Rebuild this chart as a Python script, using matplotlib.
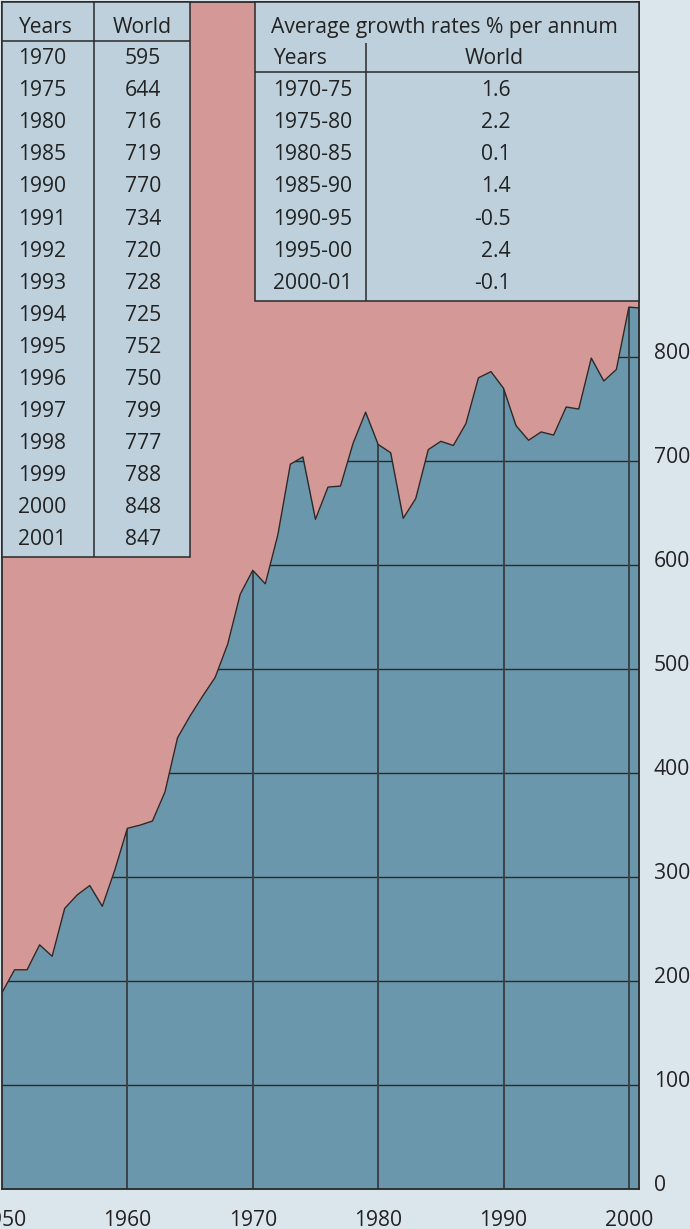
import matplotlib
matplotlib.use("Agg")
import matplotlib.pyplot as plt
import numpy as np
from matplotlib.patches import Rectangle
from matplotlib.transforms import ScaledTranslation

plt.rcParams['font.family'] = ['Open Sans', 'DejaVu Sans']

# ---- data ----
years = list(range(1950, 2002))
world = [189, 211, 211, 235, 224, 270, 283, 292, 272, 307,
         347, 350, 354, 382, 434, 455, 474, 492, 524, 572,
         595, 582, 629, 697, 704, 644, 675, 676, 717, 747,
         716, 708, 645, 664, 711, 719, 715, 736, 780, 786,
         770, 734, 720, 728, 725, 752, 750, 799, 777, 788,
         848, 847]

table_years = [1970, 1975, 1980, 1985, 1990, 1991, 1992, 1993, 1994, 1995,
               1996, 1997, 1998, 1999, 2000, 2001]
table_values = [595, 644, 716, 719, 770, 734, 720, 728, 725, 752,
                750, 799, 777, 788, 848, 847]

growth_periods = ["1970-75", "1975-80", "1980-85", "1985-90", "1990-95", "1995-00", "2000-01"]
growth_rates = ["1.6", "2.2", "0.1", "1.4", "-0.5", "2.4", "-0.1"]

x_ticks = [1950, 1960, 1970, 1980, 1990, 2000]
y_ticks = [0, 100, 200, 300, 400, 500, 600, 700, 800]

# ---- style ----
BG = '#dae6ec'
PINK = '#d49996'
BLUE = '#6a97ab'
CELL = '#bdd0db'
DARK = '#2a2a2a'
TXT = '#222222'
FS = 15.2

W, H = 690, 1229
fig = plt.figure(figsize=(W / 100, H / 100), dpi=100, facecolor=BG)

ax_l, ax_r, ax_t, ax_b = 2.0, 639.3, 2.3, 1189.3
ax = fig.add_axes([ax_l / W, 1 - ax_b / H, (ax_r - ax_l) / W, (ax_b - ax_t) / H])
ax.set_facecolor(PINK)
ax.set_xlim(1950, 2000.83)
ax.set_ylim(0, 1141)

fill = ax.fill_between(years, world, 0, color=BLUE, lw=0, zorder=1)
clip = fill.get_paths()[0]

hl = ax.hlines(y_ticks[1:], 1950, 2002, colors=DARK, lw=1.0, zorder=2)
hl.set_clip_path(clip, ax.transData)
vl = ax.vlines(x_ticks[1:], 0, 1200, colors='#3a4248', lw=1.4, zorder=2)
vl.set_clip_path(clip, ax.transData)
ax.plot(years, world, color=DARK, lw=1.0, zorder=3)

for s in ax.spines.values():
    s.set_color(DARK)
    s.set_linewidth(1.3)
    s.set_zorder(5)

ax.set_xticks(x_ticks)
ax.set_xticklabels([str(v) for v in x_ticks])
ax.set_yticks(y_ticks)
ax.set_yticklabels([str(v) for v in y_ticks])
ax.yaxis.tick_right()
ax.tick_params(axis='both', length=0, labelsize=FS, labelcolor=TXT)
ax.tick_params(axis='x', pad=15)
ax.tick_params(axis='y', pad=10.5)
for lab in ax.get_yticklabels():
    lab.set_horizontalalignment('left')
    lab.set_transform(lab.get_transform() + ScaledTranslation(0, 6 / 100, fig.dpi_scale_trans))

# ---- overlay for tables (pixel coordinates) ----
ov = fig.add_axes([0, 0, 1, 1], zorder=10)
ov.set_xlim(0, W)
ov.set_ylim(H, 0)
ov.axis('off')
ov.patch.set_alpha(0)

def rect(x0, y0, x1, y1):
    ov.add_patch(Rectangle((x0, y0), x1 - x0, y1 - y0, facecolor=CELL,
                           edgecolor=DARK, lw=1.1))

def line(x0, y0, x1, y1, lw=1.1):
    ov.plot([x0, x1], [y0, y1], color=DARK, lw=lw, solid_capstyle='butt')

row_base0 = 64.3
row_step = 32.05

# left table
rect(2, 2.3, 189.7, 556.7)
line(93.6, 2.3, 93.6, 556.7)
line(2, 40.7, 189.7, 40.7)
ov.text(18, 33, "Years", fontsize=FS, color=TXT, ha='left', va='baseline')
ov.text(142, 33, "World", fontsize=FS, color=TXT, ha='center', va='baseline')
for i, (yv, v) in enumerate(zip(table_years, table_values)):
    yb = row_base0 + row_step * i
    ov.text(18, yb, str(yv), fontsize=FS, color=TXT, ha='left', va='baseline')
    ov.text(143, yb, str(v), fontsize=FS, color=TXT, ha='center', va='baseline')

# right table
rect(255.3, 2.3, 639.3, 301)
line(255.3, 72.3, 639.3, 72.3)
line(365.5, 42.7, 365.5, 301)
ov.text(271, 33, "Average growth rates % per annum", fontsize=FS, color=TXT,
        ha='left', va='baseline')
ov.text(273, row_base0, "Years", fontsize=FS, color=TXT, ha='left', va='baseline')
ov.text(494, row_base0, "World", fontsize=FS, color=TXT, ha='center', va='baseline')
for i, (p, r) in enumerate(zip(growth_periods, growth_rates)):
    yb = row_base0 + row_step * (i + 1)
    ov.text(273, yb, p, fontsize=FS, color=TXT, ha='left', va='baseline')
    ov.text(511, yb, r, fontsize=FS, color=TXT, ha='right', va='baseline')

fig.savefig("out.png", dpi=100, facecolor=BG)
